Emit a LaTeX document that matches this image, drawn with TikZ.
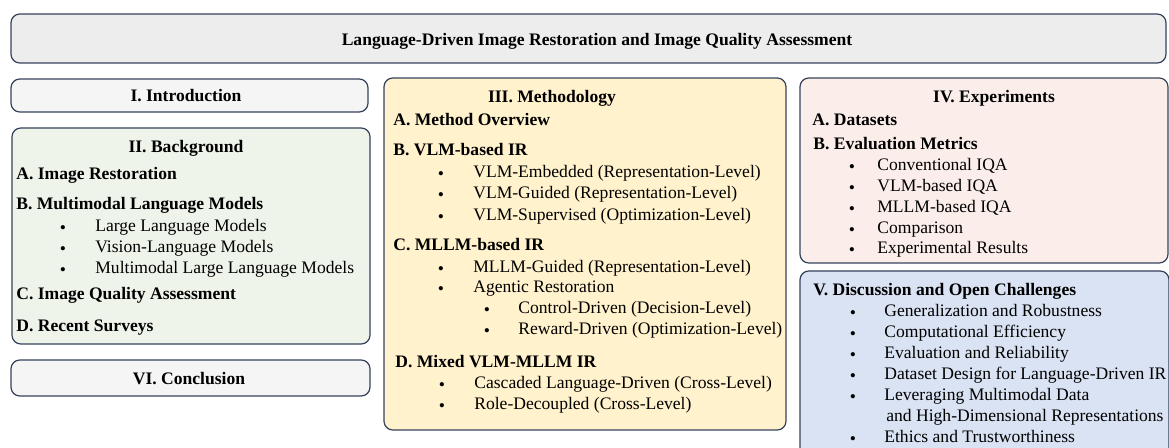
\documentclass[tikz,border=0pt]{standalone}
\usepackage{fontspec}
\setmainfont{Liberation Serif}
\usetikzlibrary{positioning}
\definecolor{rim}{HTML}{36425C}
\definecolor{greyfill}{HTML}{EDEDED}
\definecolor{palefill}{HTML}{F5F5F5}
\definecolor{greenfill}{HTML}{EEF4EA}
\definecolor{goldfill}{HTML}{FFF2CC}
\definecolor{rosefill}{HTML}{FBEEEA}
\definecolor{bluefill}{HTML}{DAE3F3}

\begin{document}
\begin{tikzpicture}[x=0.02cm,y=-0.02cm,
  box/.style={draw=rim,line width=0.7pt,rounded corners=5pt},
  head/.style={font=\bfseries\fontsize{10}{12}\selectfont,inner sep=0,text height=7pt,text depth=1pt},
  sec/.style={head,anchor=west},
  txt/.style={font=\fontsize{10}{12}\selectfont,inner sep=0,text height=7pt,text depth=1pt,anchor=west},
  dot/.style={font=\fontsize{10}{12}\selectfont,inner sep=0,text height=6.4pt,text depth=1pt,yshift=-1.8pt}]
\useasboundingbox (0,0) rectangle (1169,448);

% frames
\draw[box,fill=greyfill] (11,14) rectangle (1166,63);
\draw[box,fill=palefill] (11,79) rectangle (368,112);
\draw[box,fill=greenfill] (12,128) rectangle (370,344);
\draw[box,fill=palefill] (11,360) rectangle (370,396);
\draw[box,fill=goldfill] (384,78) rectangle (786,430);
\draw[box,fill=rosefill] (800,78) rectangle (1168,263);
\draw[box,fill=bluefill] (800,271) rectangle (1169,470);

% headings
\node[head] (title) at (597,40) {Language-Driven Image Restoration and Image Quality Assessment};
\node[head] (intro) at (186,96) {I. Introduction};
\node[head] (backg) at (186,147) {II. Background};
\node[head] (concl) at (189,379) {VI. Conclusion};
\node[head] (meth) at (552,97) {III. Methodology};
\node[head] (expe) at (994,97) {IV. Experiments};

% II. Background
\node[sec] (bgA) at (16,174) {A. Image Restoration};
\node[sec] (bgB) at (16,204) {B. Multimodal Language Models};
\foreach \y/\t [count=\i] in {226/Large Language Models,247/Vision-Language Models,268/Multimodal Large Language Models}{
  \node[dot] (bgd\i) at (63,\y) {\textbullet};
  \node[txt] (bgt\i) at (95,\y) {\t};
}
\node[sec] (bgC) at (16,294) {C. Image Quality Assessment};
\node[sec] (bgD) at (16,326) {D. Recent Surveys};

% III. Methodology
\node[sec] (mA) at (393,120) {A. Method Overview};
\node[sec] (mB) at (393,150) {B. VLM-based IR};
\foreach \y/\t [count=\i] in {172/VLM-Embedded (Representation-Level),193/VLM-Guided (Representation-Level),215/VLM-Supervised (Optimization-Level)}{
  \node[dot] (mbd\i) at (441,\y) {\textbullet};
  \node[txt] (mbt\i) at (473,\y) {\t};
}
\node[sec] (mC) at (393,245) {C. MLLM-based IR};
\foreach \y/\t [count=\i] in {267/MLLM-Guided (Representation-Level),287/Agentic Restoration}{
  \node[dot] (mcd\i) at (441,\y) {\textbullet};
  \node[txt] (mct\i) at (473,\y) {\t};
}
\foreach \y/\t [count=\i] in {308/Control-Driven (Decision-Level),329/Reward-Driven (Optimization-Level)}{
  \node[dot] (mad\i) at (487,\y) {\textbullet};
  \node[txt] (mat\i) at (518,\y) {\t};
}
\node[sec] (mD) at (395,362) {D. Mixed VLM-MLLM IR};
\foreach \y/\t [count=\i] in {383/Cascaded Language-Driven (Cross-Level),404/Role-Decoupled (Cross-Level)}{
  \node[dot] (mdd\i) at (442,\y) {\textbullet};
  \node[txt] (mdt\i) at (474,\y) {\t};
}

% IV. Experiments
\node[sec] (eA) at (812,120) {A. Datasets};
\node[sec] (eB) at (813,144) {B. Evaluation Metrics};
\foreach \y/\t [count=\i] in {165/Conventional IQA,186/VLM-based IQA,207/MLLM-based IQA,228/Comparison,248/Experimental Results}{
  \node[dot] (ed\i) at (852,\y) {\textbullet};
  \node[txt] (et\i) at (877,\y) {\t};
}

% V. Discussion
\node[sec] (disc) at (813,290) {V. Discussion and Open Challenges};
\foreach \y/\t [count=\i] in {311/Generalization and Robustness,332/Computational Efficiency,353/Evaluation and Reliability,374/Dataset Design for Language-Driven IR,395/Leveraging Multimodal Data,437/Ethics and Trustworthiness}{
  \node[dot] (dd\i) at (853,\y) {\textbullet};
  \node[txt] (dt\i) at (884,\y) {\t};
}
\node[txt] (dt5b) at (886,416) {and High-Dimensional Representations};
\end{tikzpicture}
\end{document}
